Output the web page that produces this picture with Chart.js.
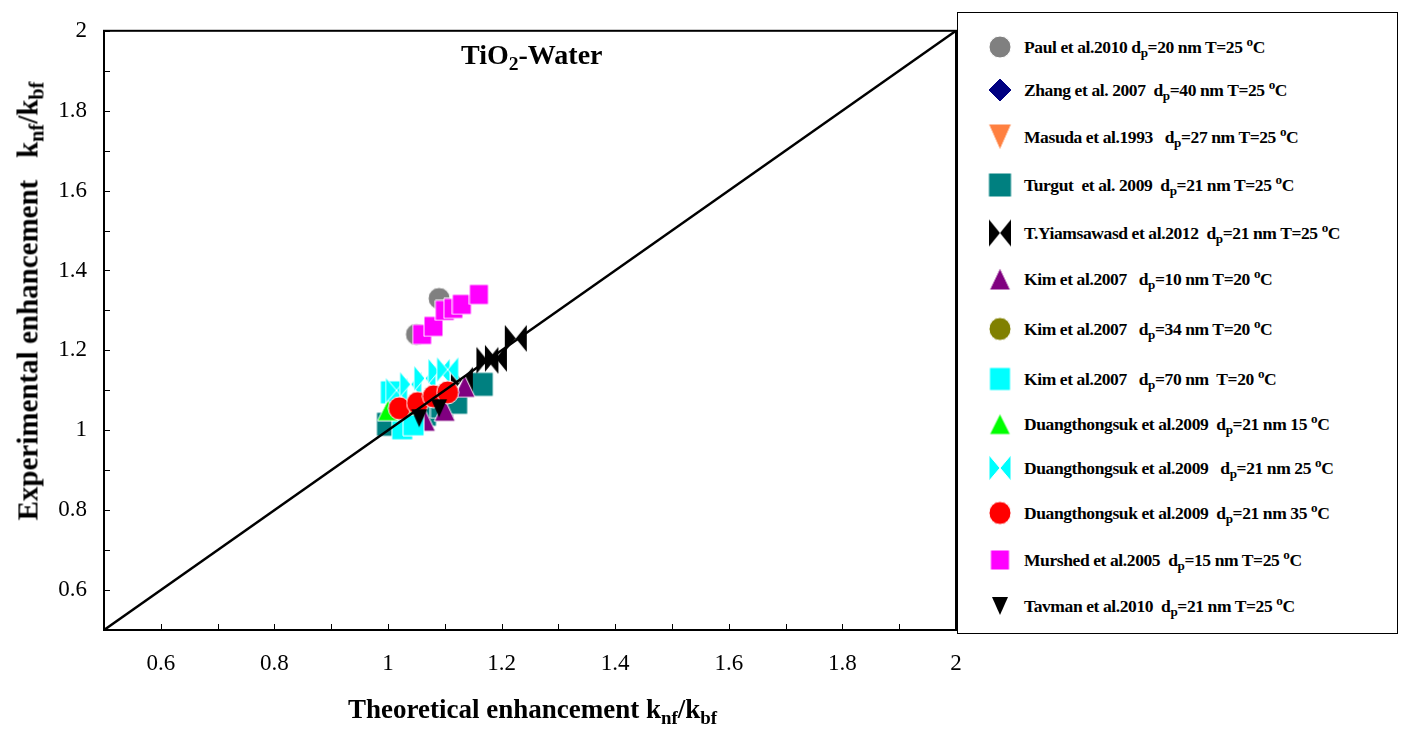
<!DOCTYPE html>
<html>
<head>
<meta charset="utf-8">
<script src="https://cdn.jsdelivr.net/npm/chart.js@4.4.1/dist/chart.umd.min.js"></script>
<style>
  body { margin: 0; width: 1401px; height: 732px; background: #fff; position: relative; overflow: hidden; font-family: "Liberation Serif", serif; }
  #wrap { position: absolute; left: 0; top: 0; width: 1000px; height: 732px; }
  .lbl { position: absolute; font-weight: bold; white-space: nowrap; color: #000; }
  .lbl sub { font-size: 70%; vertical-align: -0.3em; }
  #title { left: 461px; top: 39px; font-size: 28px; }
  #xTitle { left: 348px; top: 694px; font-size: 27px; }
  #yTitle { left: 30px; top: 301px; font-size: 29px; transform: translate(-50%, -50%) rotate(-90deg); }
  #legend { position: absolute; left: 957px; top: 12px; width: 441px; height: 622px; border: 1.5px solid #000; box-sizing: border-box; z-index: 2; background: #fff; }
  .item { position: absolute; left: 0; width: 100%; height: 0; }
  .item canvas { position: absolute; transform: translate(-50%, -50%); }
  .item span { position: absolute; left: 66px; top: -13px; font-size: 17.5px; font-weight: bold; white-space: pre; letter-spacing: -0.4px; }
  .item sub { font-size: 75%; vertical-align: -0.35em; }
  .item sup { font-size: 75%; vertical-align: 0.5em; }
</style>
</head>
<body>
<div id="wrap"><canvas id="chart"></canvas></div>
<div class="lbl" id="title">TiO<sub>2</sub>-Water</div>
<div class="lbl" id="xTitle">Theoretical enhancement k<sub>nf</sub>/k<sub>bf</sub></div>
<div class="lbl" id="yTitle">Experimental enhancement&nbsp;&nbsp; k<sub>nf</sub>/k<sub>bf</sub></div>
<div id="legend"></div>
<script>
// x = theoretical, y = experimental (knf/kbf)
const paul = [[1.05, 1.24], [1.09, 1.33]];
const zhang = [[1.03, 1.03], [1.07, 1.05]];
const masuda = [[1.04, 1.03]];
const turgut = [[1.0, 1.015], [1.03, 1.02], [1.065, 1.04], [1.095, 1.06], [1.12, 1.07], [1.165, 1.115]];
const yiamsawasd = [[1.13, 1.125], [1.175, 1.175], [1.19, 1.18], [1.225, 1.23]];
const kim10 = [[1.065, 1.025], [1.1, 1.05], [1.135, 1.11]];
const kim34 = [[1.035, 1.02]];
const kim70 = [[1.005, 1.095], [1.025, 1.005], [1.045, 1.015]];
const duang15 = [[1.0, 1.05], [1.03, 1.065]];
const duang25 = [[1.015, 1.1], [1.04, 1.115], [1.065, 1.13], [1.09, 1.148], [1.105, 1.152]];
const duang35 = [[1.02, 1.055], [1.052, 1.068], [1.08, 1.085], [1.105, 1.095]];
const murshed = [[1.06, 1.24], [1.08, 1.26], [1.1, 1.3], [1.115, 1.305], [1.13, 1.315], [1.16, 1.34]];
const tavman = [[1.055, 1.03], [1.09, 1.055]];
const diagonal = [[0.5, 0.5], [2, 2]];

const xTickLabels = [0.6, 0.8, 1, 1.2, 1.4, 1.6, 1.8, 2];
const yTickLabels = [0.6, 0.8, 1, 1.2, 1.4, 1.6, 1.8, 2];

const legendLabels = [
  "Paul et al.2010 d<sub>p</sub>=20 nm T=25 <sup>o</sup>C",
  "Zhang et al. 2007  d<sub>p</sub>=40 nm T=25 <sup>o</sup>C",
  "Masuda et al.1993   d<sub>p</sub>=27 nm T=25 <sup>o</sup>C",
  "Turgut  et al. 2009  d<sub>p</sub>=21 nm T=25 <sup>o</sup>C",
  "T.Yiamsawasd et al.2012  d<sub>p</sub>=21 nm T=25 <sup>o</sup>C",
  "Kim et al.2007   d<sub>p</sub>=10 nm T=20 <sup>o</sup>C",
  "Kim et al.2007   d<sub>p</sub>=34 nm T=20 <sup>o</sup>C",
  "Kim et al.2007   d<sub>p</sub>=70 nm  T=20 <sup>o</sup>C",
  "Duangthongsuk et al.2009  d<sub>p</sub>=21 nm 15 <sup>o</sup>C",
  "Duangthongsuk et al.2009   d<sub>p</sub>=21 nm 25 <sup>o</sup>C",
  "Duangthongsuk et al.2009  d<sub>p</sub>=21 nm 35 <sup>o</sup>C",
  "Murshed et al.2005  d<sub>p</sub>=15 nm T=25 <sup>o</sup>C",
  "Tavman et al.2010  d<sub>p</sub>=21 nm T=25 <sup>o</sup>C"
];

// shape, colour, width, height
const markers = [
  ["circle", "#808080", 22, 22],
  ["diamond", "#000080", 24, 24],
  ["triDown", "#FF8040", 23, 26],
  ["square", "#008080", 23, 24],
  ["bowtie", "#000000", 22, 27],
  ["triUp", "#800080", 21, 22],
  ["circle", "#808000", 22, 23],
  ["square", "#00FFFF", 21, 23],
  ["triUp", "#00FF00", 21, 21],
  ["bowtie", "#00FFFF", 22, 26],
  ["circle", "#FF0000", 22, 23],
  ["square", "#FF00FF", 19, 20],
  ["triDown", "#000000", 16, 18]
];
const seriesData = [paul, zhang, masuda, turgut, yiamsawasd, kim10, kim34, kim70, duang15, duang25, duang35, murshed, tavman];

function makeMarker(shape, color, w, h) {
  const c = document.createElement("canvas");
  c.width = w + 2;
  c.height = h + 2;
  const g = c.getContext("2d");
  g.translate(1, 1);
  g.fillStyle = color;
  g.strokeStyle = "#ffffff";
  g.lineWidth = 1;
  g.beginPath();
  if (shape === "circle") {
    g.ellipse(w / 2, h / 2, w / 2, h / 2, 0, 0, Math.PI * 2);
  } else if (shape === "square") {
    g.rect(0, 0, w, h);
  } else if (shape === "diamond") {
    g.moveTo(w / 2, 0); g.lineTo(w, h / 2); g.lineTo(w / 2, h); g.lineTo(0, h / 2); g.closePath();
  } else if (shape === "triUp") {
    g.moveTo(w / 2, 0); g.lineTo(w, h); g.lineTo(0, h); g.closePath();
  } else if (shape === "triDown") {
    g.moveTo(0, 0); g.lineTo(w, 0); g.lineTo(w / 2, h); g.closePath();
  } else if (shape === "bowtie") {
    g.moveTo(0, 0); g.lineTo(w / 2, h / 2); g.lineTo(0, h); g.closePath();
    g.moveTo(w, 0); g.lineTo(w / 2, h / 2); g.lineTo(w, h); g.closePath();
  }
  g.fill();
  if (color !== "#000000") g.stroke();
  return c;
}

const datasets = [{
  type: "line",
  data: diagonal.map(p => ({ x: p[0], y: p[1] })),
  borderColor: "#000",
  borderWidth: 2.5,
  pointRadius: 0,
  order: 0
}];
seriesData.forEach((s, i) => {
  const m = markers[i];
  datasets.push({
    label: legendLabels[i],
    data: s.map(p => ({ x: p[0], y: p[1] })),
    pointStyle: makeMarker(m[0], m[1], m[2], m[3]),
    order: 20 - i
  });
});

// legend
const legendRows = [34, 77, 124, 172, 220, 266, 316, 366, 411, 455, 500, 547, 593];
const legend = document.getElementById("legend");
legendLabels.forEach((txt, i) => {
  const m = markers[i];
  const row = document.createElement("div");
  row.className = "item";
  row.style.top = legendRows[i] + "px";
  const mk = makeMarker(m[0], m[1], m[2], m[3]);
  mk.style.left = "42px";
  row.appendChild(mk);
  const span = document.createElement("span");
  span.innerHTML = txt;
  row.appendChild(span);
  legend.appendChild(row);
});

const tickFont = { family: "'Liberation Serif', 'Times New Roman', serif", size: 23 };

const frameTicks = {
  id: "frameTicks",
  afterDatasetsDraw(chart) {
    const { ctx, chartArea: a, scales } = chart;
    ctx.save();
    ctx.strokeStyle = "#000";
    ctx.lineWidth = 1;
    scales.x.ticks.forEach(t => {
      const px = Math.round(scales.x.getPixelForValue(t.value)) + 0.5;
      ctx.beginPath(); ctx.moveTo(px, a.bottom); ctx.lineTo(px, a.bottom - 6); ctx.stroke();
    });
    scales.y.ticks.forEach(t => {
      const py = Math.round(scales.y.getPixelForValue(t.value)) + 0.5;
      ctx.beginPath(); ctx.moveTo(a.left, py); ctx.lineTo(a.left + 6, py); ctx.stroke();
    });
    ctx.lineWidth = 2;
    ctx.strokeRect(a.left, a.top, a.right - a.left, a.bottom - a.top);
    ctx.restore();
  }
};

new Chart(document.getElementById("chart"), {
  type: "scatter",
  data: { datasets },
  options: {
    responsive: true,
    maintainAspectRatio: false,
    animation: false,
    layout: { padding: { left: 0, right: 44, top: 12, bottom: 0 } },
    plugins: { legend: { display: false }, tooltip: { enabled: false } },
    scales: {
      x: {
        type: "linear",
        min: 0.5,
        max: 2,
        grid: { display: false, drawTicks: false },
        border: { display: false },
        ticks: {
          stepSize: 0.1,
          autoSkip: false,
          maxRotation: 0,
          padding: 20,
          color: "#000",
          font: tickFont,
          callback: v => {
            const r = Math.round(v * 10) / 10;
            return xTickLabels.includes(r) ? String(r) : "";
          }
        },
        afterFit(scale) { scale.height = 102; }
      },
      y: {
        type: "linear",
        min: 0.5,
        max: 2,
        grid: { display: false, drawTicks: false },
        border: { display: false },
        ticks: {
          stepSize: 0.1,
          autoSkip: false,
          padding: 17,
          color: "#000",
          font: tickFont,
          callback: v => {
            const r = Math.round(v * 10) / 10;
            return yTickLabels.includes(r) ? String(r) : "";
          }
        },
        afterFit(scale) { scale.width = 104; }
      }
    }
  },
  plugins: [frameTicks]
});
</script>
</body>
</html>
